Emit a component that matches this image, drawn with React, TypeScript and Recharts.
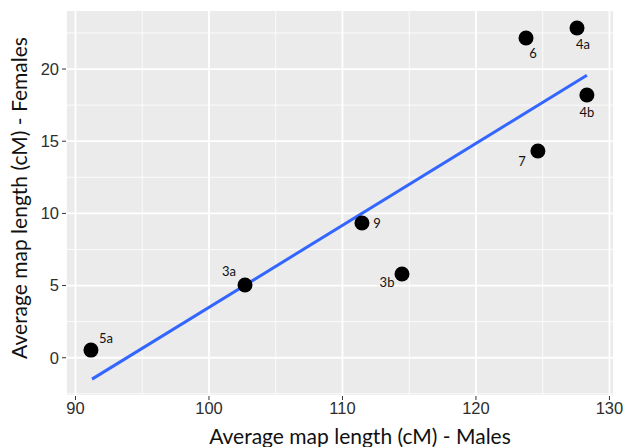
import {
  CartesianGrid,
  LabelList,
  Scatter,
  ScatterChart,
  XAxis,
  YAxis,
} from "recharts";

// chromosome arm labels
const arms = ["5a", "3a", "9", "3b", "6", "4a", "4b", "7"];
// average map length in cM
const males = [91.16, 102.7, 111.46, 114.46, 123.75, 127.57, 128.31, 124.64];
const females = [0.53, 5.04, 9.33, 5.8, 22.15, 22.84, 18.2, 14.32];

// fitted linear trend, ends of the segment
const fitMales = [91.24, 128.31];
const fitFemales = [-1.48, 19.57];

const xTicks = [90, 100, 110, 120, 130];
const yTicks = [0, 5, 10, 15, 20];
const xMinor = [95, 105, 115, 125];
const yMinor = [-2.5, 2.5, 7.5, 12.5, 17.5, 22.5];

// where each label sits relative to its point
const labelOffset: Record<string, [number, number]> = {
  "5a": [15, -12],
  "3a": [-16, -14],
  "9": [15, 0],
  "3b": [-15, 8],
  "6": [7, 15],
  "4a": [6, 16],
  "4b": [0, 17],
  "7": [-16, 10],
};

const points = arms.map((name, i) => ({ name, x: males[i], y: females[i] }));
const fit = fitMales.map((x, i) => ({ x, y: fitFemales[i] }));

const tickStyle = { fill: "#2e2e2e", fontSize: 16.5, fontFamily: "Liberation Sans" };

function Dot(props: any) {
  return <circle cx={props.cx} cy={props.cy} r={7.5} fill="#000" />;
}

function ArmLabel(props: any) {
  const { x, y, width, height, value } = props;
  const [dx, dy] = labelOffset[value] || [0, 0];
  return (
    <text
      x={x + width / 2 + dx}
      y={y + height / 2 + dy}
      textAnchor="middle"
      dominantBaseline="central"
      fontSize={13}
      fontFamily="Lato"
      fill="#111"
    >
      {value}
    </text>
  );
}

export default function App() {
  return (
    <div style={{ position: "absolute", left: 0, top: 0, background: "#fff" }}>
      <ScatterChart
        width={627}
        height={447}
        margin={{ top: 10, right: 13, bottom: 0, left: 0 }}
      >
        <CartesianGrid
          fill="#EBEBEB"
          stroke="#fff"
          strokeWidth={0.8}
          horizontalValues={yMinor}
          verticalValues={xMinor}
        />
        <CartesianGrid stroke="#fff" strokeWidth={1.8} />
        <XAxis
          type="number"
          dataKey="x"
          domain={[89.29, 130.34]}
          ticks={xTicks}
          allowDataOverflow
          height={51}
          axisLine={false}
          tickSize={4}
          tickMargin={2}
          tickLine={{ stroke: "#333" }}
          tick={tickStyle}
          label={{
            value: "Average map length (cM) - Males",
            position: "insideBottom",
            offset: 3,
            dx: 20,
            fontSize: 21,
            fontFamily: "Lato",
            fill: "#111",
          }}
        />
        <YAxis
          type="number"
          dataKey="y"
          domain={[-2.65, 24.09]}
          ticks={yTicks}
          allowDataOverflow
          width={66}
          axisLine={false}
          tickSize={4}
          tickMargin={3}
          tickLine={{ stroke: "#333" }}
          tick={tickStyle}
          label={{
            value: "Average map length (cM) - Females",
            position: "center",
            angle: -90,
            dx: -13,
            dy: -5,
            fontSize: 21,
            fontFamily: "Lato",
            fill: "#111",
          }}
        />
        <Scatter
          data={fit}
          line={{ stroke: "#3366FF", strokeWidth: 3 }}
          shape={() => <g />}
          isAnimationActive={false}
        />
        <Scatter data={points} shape={Dot} isAnimationActive={false}>
          <LabelList dataKey="name" content={ArmLabel} />
        </Scatter>
      </ScatterChart>
    </div>
  );
}
